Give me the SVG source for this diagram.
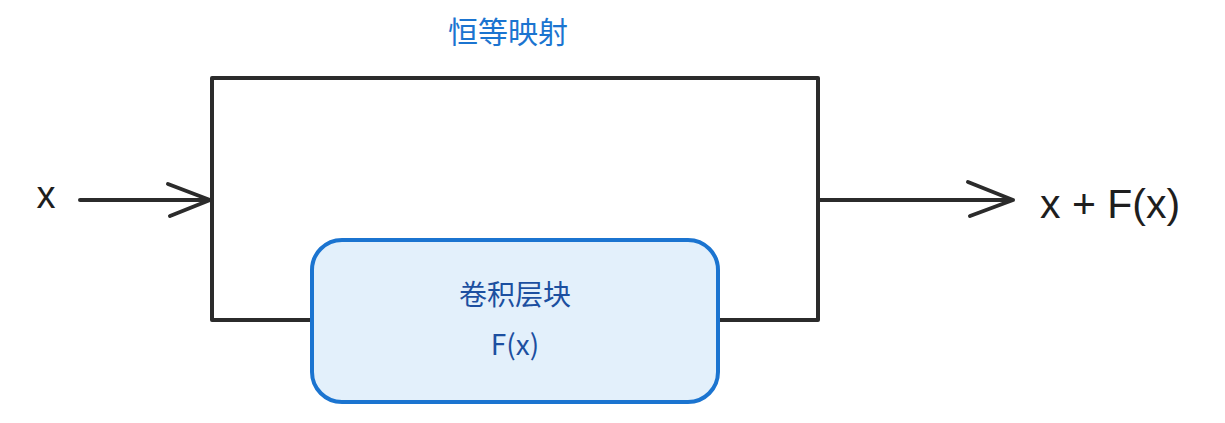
<svg xmlns="http://www.w3.org/2000/svg" width="1225" height="423" viewBox="0 0 1225 423">
<style>
.ln{fill:none;stroke:#2b2b2b;stroke-width:4;stroke-linecap:round;stroke-linejoin:round}
.t{font-family:"Liberation Sans","Noto Sans CJK SC",sans-serif;fill:#1e1e1e}
.b{font-family:"Noto Sans CJK SC","Liberation Sans",sans-serif;fill:#1c4fa0;font-size:28px;text-anchor:middle}
</style>
<rect width="1225" height="423" fill="#fff"/>
<g id="connectors">
<path class="ln" d="M312 320 L212 320 L212 78 L818 78 L818 320 L718 320"/>
<path class="ln" d="M80 200 L210 200 M168 184 L210 200 L170 216"/>
<path class="ln" d="M820 200 L1013 200 M968 182 L1013 200 L970 216"/>
</g>
<g id="block">
<rect x="312" y="240" width="406" height="162" rx="30" fill="#e3f0fb" stroke="#1b74d0" stroke-width="4"/>
<text class="b" x="515" y="305">卷积层块</text>
<text class="b" x="515" y="355" font-size="30">F(x)</text>
</g>
<g id="labels">
<text x="508" y="43" font-size="30" style="fill:#1b74d0;font-family:'Noto Sans CJK SC',sans-serif" text-anchor="middle">恒等映射</text>
<text class="t" x="46" y="208" font-size="38" text-anchor="middle">x</text>
<text class="t" x="1040" y="218" font-size="41">x + F(x)</text>
</g>
</svg>
